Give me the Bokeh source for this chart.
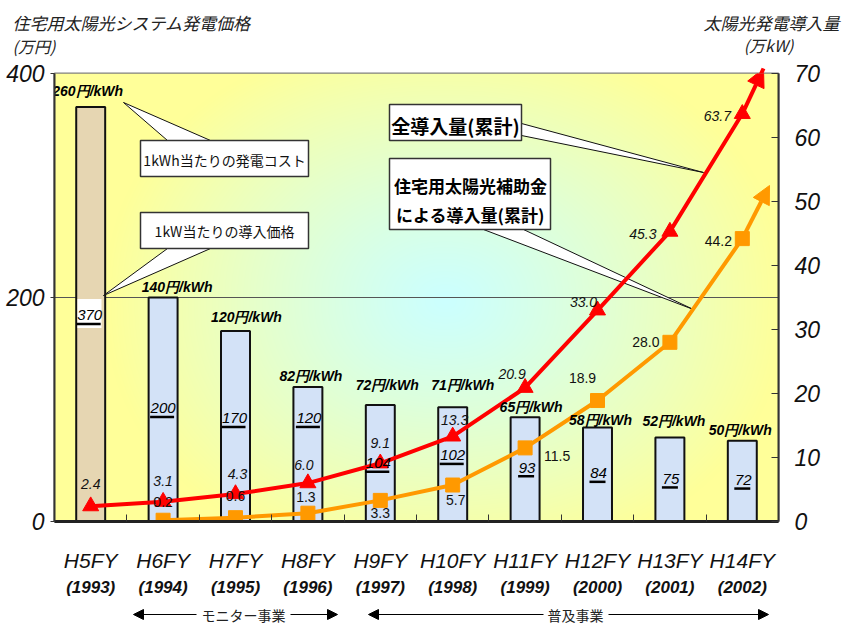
import numpy as np
from bokeh.plotting import figure
from bokeh.layouts import column
from bokeh.models import (Range1d, LinearAxis, FixedTicker, Arrow,
                          NormalHead, Grid)
from bokeh.embed import file_html
from bokeh.resources import INLINE
from bokeh.core.properties import value

# ---------------- data ----------------
fiscal_years = ["H5FY", "H6FY", "H7FY", "H8FY", "H9FY",
                "H10FY", "H11FY", "H12FY", "H13FY", "H14FY"]
calendar_years = ["(1993)", "(1994)", "(1995)", "(1996)", "(1997)",
                  "(1998)", "(1999)", "(2000)", "(2001)", "(2002)"]
system_price = [370, 200, 170, 120, 104, 102, 93, 84, 75, 72]          # 万円 (1kW当たりの導入価格)
generation_cost = ["260円/kWh", "140円/kWh", "120円/kWh", "82円/kWh", "72円/kWh",
                   "71円/kWh", "65円/kWh", "58円/kWh", "52円/kWh", "50円/kWh"]
total_installed = [2.4, 3.1, 4.3, 6.0, 9.1, 13.3, 20.9, 33.0, 45.3, 63.7]   # 万kW 全導入量(累計)
subsidy_installed = [0.2, 0.6, 1.3, 3.3, 5.7, 11.5, 18.9, 28.0, 44.2]      # 万kW H6FY..H14FY
left_ticks = [0, 200, 400]
right_ticks = [0, 10, 20, 30, 40, 50, 60, 70]
left_title = ["住宅用太陽光システム発電価格", "(万円)"]
right_title = ["太陽光発電導入量", "(万kW)"]
phase_names = ["モニター事業", "普及事業"]

# ---------------- layout helpers ----------------
W, H = 842, 625
TOP_H, BOT_H = 58, 25
FL, FR, FT, FB = 54, 778, 73, 521
NCAT = len(fiscal_years)
XPX = (FR - FL) / NCAT
YPX = (FB - FT) / 400.0
YRPX = (FB - FT) / 70.0


def X(px):
    return (px - FL) / XPX


def Y(py):
    return (FB - py) / YPX


NUM_FONT = "Liberation Sans"
JP_FONT = "Noto Sans CJK JP"
RED = "#FF0000"
ORANGE = "#FF9900"
INK = "#111111"

centers = [i + 0.5 for i in range(NCAT)]


def strip(height):
    f = figure(width=W, height=height, x_range=Range1d(0, W), y_range=Range1d(height, 0),
               output_backend="svg", toolbar_location=None,
               x_axis_type=None, y_axis_type=None,
               min_border_left=0, min_border_right=0, min_border_top=0, min_border_bottom=0,
               outline_line_color=None, background_fill_color="white",
               border_fill_color="white", frame_align=False)
    return f


# ---------------- top strip: axis titles ----------------
top = strip(TOP_H)
top.text(x=[12, 12], y=[22, 45], text=left_title, text_align="left",
         text_baseline="middle", text_font=value(JP_FONT), text_font_style="italic",
         text_font_size=["17px", "16px"], text_color="#222222")
top.text(x=[839, 768], y=[22, 44], text=right_title, text_align=["right", "center"],
         text_baseline="middle", text_font=value(JP_FONT), text_font_style="italic",
         text_font_size=["17px", "16px"], text_color="#222222")

# ---------------- main chart ----------------
main_h = H - TOP_H - BOT_H
p = figure(width=W, height=main_h, x_range=Range1d(0, NCAT), y_range=Range1d(0, 400),
           output_backend="svg", toolbar_location=None,
           x_axis_type=None, y_axis_type=None,
           min_border_left=FL, min_border_right=W - FR,
           min_border_top=FT - TOP_H, min_border_bottom=main_h - (FB - TOP_H),
           border_fill_color="white", background_fill_color="#FFFF99",
           frame_align=False)
p.outline_line_color = "#808080"
p.outline_line_width = 2
p.extra_y_ranges = {"kw": Range1d(0, 70)}

# background gradient (light turquoise centre -> light yellow edges)
ny, nx = FB - FT, FR - FL
px_x = FL + np.arange(nx) + 0.5
px_y = FB - (np.arange(ny) + 0.5)
gx, gy = np.meshgrid(px_x, px_y)
cx, cy, rx, ry = 445.0, 300.0, 340.0, 265.0
d = (np.abs((gx - cx) / rx) ** 2.2 + np.abs((gy - cy) / ry) ** 2.2) ** (1 / 2.2)
t = np.clip(d, 0, 1) ** 1.15
c0 = np.array([204, 255, 255], dtype=float)
c1 = np.array([255, 255, 153], dtype=float)
img = np.empty((ny, nx), dtype=np.uint32)
view = img.view(dtype=np.uint8).reshape((ny, nx, 4))
for k in range(3):
    view[:, :, k] = (c0[k] + (c1[k] - c0[k]) * t).astype(np.uint8)
view[:, :, 3] = 255
p.image_rgba(image=[img], x=0, y=0, dw=NCAT, dh=400, level="image")

# axes
left_axis = LinearAxis(ticker=FixedTicker(ticks=left_ticks),
                       major_label_text_font=NUM_FONT,
                       major_label_text_font_style="italic",
                       major_label_text_font_size="23px",
                       major_label_text_color=INK,
                       major_tick_in=0, major_tick_out=4, minor_tick_out=0, minor_tick_in=0,
                       axis_line_color="#333333", axis_line_width=2,
                       major_tick_line_color="#333333",
                       major_label_standoff=6)
p.add_layout(left_axis, "left")

right_axis = LinearAxis(y_range_name="kw", ticker=FixedTicker(ticks=right_ticks),
                        major_label_text_font=NUM_FONT,
                        major_label_text_font_style="italic",
                        major_label_text_font_size="23px",
                        major_label_text_color=INK,
                        major_tick_in=7, major_tick_out=0, minor_tick_out=0, minor_tick_in=0,
                        axis_line_color="#333333", axis_line_width=2,
                        major_tick_line_color="#333333",
                        major_label_standoff=16)
p.add_layout(right_axis, "right")

fy_axis = LinearAxis(ticker=FixedTicker(ticks=centers, minor_ticks=list(range(1, NCAT))),
                     major_label_overrides={c: s for c, s in zip(centers, fiscal_years)},
                     major_label_text_font=NUM_FONT,
                     major_label_text_font_style="italic",
                     major_label_text_font_size="21px",
                     major_label_text_color=INK,
                     major_tick_in=0, major_tick_out=0,
                     minor_tick_in=7, minor_tick_out=0,
                     minor_tick_line_color="#333333",
                     axis_line_color="#222222", axis_line_width=3,
                     major_label_standoff=27)
p.add_layout(fy_axis, "below")

year_axis = LinearAxis(ticker=FixedTicker(ticks=centers),
                       major_label_overrides={c: s for c, s in zip(centers, calendar_years)},
                       major_label_text_font=NUM_FONT,
                       major_label_text_font_style="bold italic",
                       major_label_text_font_size="17px",
                       major_label_text_color=INK,
                       major_tick_in=0, major_tick_out=0, minor_tick_in=0, minor_tick_out=0,
                       axis_line_color=None, major_label_standoff=3)
p.add_layout(year_axis, "below")

p.add_layout(Grid(dimension=1, ticker=FixedTicker(ticks=[200]),
                  grid_line_color="#555555", grid_line_width=1))

# bars
bar_colors = ["#E6D6B2"] + ["#D3E2F7"] * (NCAT - 1)
p.vbar(x=centers, top=system_price, bottom=0, width=0.4,
       fill_color=bar_colors, line_color=INK, line_width=2)

# callouts (pointer wedges + boxes), geometry in page pixels
callouts = [
    dict(box=(140, 140, 308, 176), ptr=[(167, 140), (210, 140), (123, 102)]),
    dict(box=(140, 212, 308, 248), ptr=[(167, 248), (210, 248), (103, 295)]),
    dict(box=(389, 104, 521, 140), ptr=[(521, 123), (521, 135), (703, 172)]),
    dict(box=(389, 158, 550, 229), ptr=[(483, 229), (523, 229), (693, 309)]),
]
for c in callouts:
    p.patch([X(a) for a, b in c["ptr"]], [Y(b) for a, b in c["ptr"]],
            fill_color="white", line_color=INK, line_width=1)
for c in callouts:
    l, tp, r, b = c["box"]
    p.quad(left=X(l), right=X(r), top=Y(tp), bottom=Y(b),
           fill_color="white", line_color="#333333", line_width=1.5)

# white box behind the first price label
p.rect(x=[X(89)], y=[Y(313)], width=24, height=29, width_units="screen",
       height_units="screen", fill_color="white", line_color=None)

# lines
p.line(centers, total_installed, y_range_name="kw", line_color=RED, line_width=4)
p.line(centers[1:], subsidy_installed, y_range_name="kw", line_color=ORANGE, line_width=4)
p.add_layout(Arrow(end=NormalHead(size=18, fill_color=RED, line_color=RED),
                   x_start=centers[-1], y_start=total_installed[-1],
                   x_end=X(763), y_end=(FB - 68) / YRPX, y_range_name="kw",
                   line_color=RED, line_width=4))
p.add_layout(Arrow(end=NormalHead(size=18, fill_color=ORANGE, line_color=ORANGE),
                   x_start=centers[-1], y_start=subsidy_installed[-1],
                   x_end=X(769), y_end=(FB - 185) / YRPX, y_range_name="kw",
                   line_color=ORANGE, line_width=4))
p.scatter(centers, total_installed, y_range_name="kw", marker="triangle",
          size=16, fill_color=RED, line_color=RED)
p.scatter(centers[1:], subsidy_installed, y_range_name="kw", marker="square",
          size=14, fill_color=ORANGE, line_color=ORANGE)

# generation cost labels above bars
cost_dx = [-3, 14, 11, 3, 7, 10, 6, 3, 4, -2]
cost_dy = [-16, -11, -14, -11, -20, -22, -10, -7, -17, -11]
p.text(x=centers, y=system_price, text=generation_cost, x_offset=cost_dx, y_offset=cost_dy,
       text_align="center", text_baseline="middle", text_font=value(NUM_FONT),
       text_font_style="bold italic", text_font_size="14px", text_color="#000000")

# price labels inside bars, underlined
price_label_y = [184, 101, 92, 92, 52, 59, 48, 43, 38, 37]
price_dx = [-1, 0, -1, 1, -2, 0, 2, 1, 1, 1]
price_txt = [str(v) for v in system_price]
p.text(x=centers, y=price_label_y, text=price_txt, x_offset=price_dx,
       text_align="center", text_baseline="middle", text_font=value(NUM_FONT),
       text_font_style="italic", text_font_size="15px", text_color="#000000")
ul_w = [8 * len(s) for s in price_txt]
p.rect(x=[c + (dx - 1) / XPX for c, dx in zip(centers, price_dx)],
       y=[v - 8.5 / YPX for v in price_label_y], width=ul_w, height=2.5,
       width_units="screen", height_units="screen", fill_color="#000000", line_color=None)

# line value labels
tot_dx = [0, 0, 2, -4, 0, 2, -13, -14, -27, -25]
tot_dy = [-22, -21, -20, -18, -20, -16, -14, -8, 2, 2]
p.text(x=centers, y=total_installed, text=[f"{v:.1f}" for v in total_installed],
       x_offset=tot_dx, y_offset=tot_dy, y_range_name="kw",
       text_align="center", text_baseline="middle", text_font=value(NUM_FONT),
       text_font_style="italic", text_font_size="14px", text_color=INK)
sub_dx = [0, 0, -2, 0, 3, 32, -15, -24, -24]
sub_dy = [-18, -22, -16, 13, 15, 8, -23, 0, 2]
p.text(x=centers[1:], y=subsidy_installed, text=[f"{v:.1f}" for v in subsidy_installed],
       x_offset=sub_dx, y_offset=sub_dy, y_range_name="kw",
       text_align="center", text_baseline="middle", text_font=value(NUM_FONT),
       text_font_size="14px", text_color=INK)

# callout texts
p.text(x=[X(224), X(224)], y=[Y(159), Y(230)],
       text=["1kWh当たりの発電コスト", "1kW当たりの導入価格"],
       text_align="center", text_baseline="middle", text_font=value(JP_FONT),
       text_font_size="14px", text_color=INK)
p.text(x=[X(455)], y=[Y(125)], text=["全導入量(累計)"],
       text_align="center", text_baseline="middle", text_font=value(JP_FONT),
       text_font_style="bold", text_font_size="19px", text_color="#000000")
p.text(x=[X(470), X(470)], y=[Y(185), Y(214)],
       text=["住宅用太陽光補助金", "による導入量(累計)"],
       text_align="center", text_baseline="middle", text_font=value(JP_FONT),
       text_font_style="bold", text_font_size="17px", text_color="#000000")

# ---------------- bottom strip: project phases ----------------
bot = strip(BOT_H)
py = 14
for (a0, a1), (b0, b1), name, tx in [((196, 133), (290, 337), phase_names[0], 243),
                                     ((543, 368), (608, 768), phase_names[1], 575)]:
    for s, e in [(a0, a1), (b0, b1)]:
        bot.add_layout(Arrow(end=NormalHead(size=10, fill_color="black", line_color="black"),
                             x_start=s, y_start=py, x_end=e, y_end=py,
                             line_color="black", line_width=1))
    bot.text(x=[tx], y=[py], text=[name], text_align="center", text_baseline="middle",
             text_font=value(JP_FONT), text_font_size="14px", text_color="#222222")

layout = column(top, p, bot, spacing=0)
open("out.html", "w").write(file_html(layout, INLINE))
